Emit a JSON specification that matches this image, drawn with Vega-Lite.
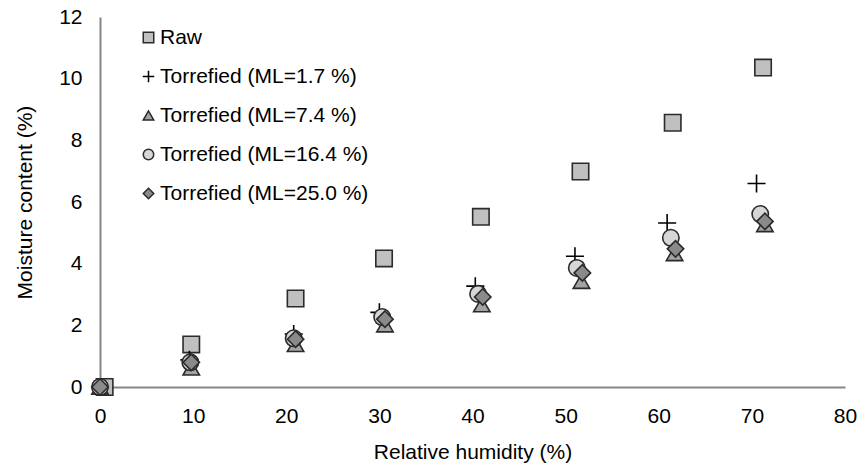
{
  "$schema": "https://vega.github.io/schema/vega-lite/v6.json",
  "width": 745,
  "height": 370,
  "autosize": {"type": "none"},
  "padding": {"left": 100, "top": 17, "right": 16, "bottom": 87},
  "background": "white",
  "config": {
    "view": {"stroke": null},
    "font": "Liberation Sans",
    "axis": {
      "grid": false,
      "domainColor": "#868686",
      "domainWidth": 2,
      "tickColor": "#868686",
      "tickWidth": 2,
      "labelFont": "Liberation Sans",
      "labelFontSize": 21,
      "labelColor": "#000",
      "labelFlush": false,
      "labelOverlap": false,
      "titleFont": "Liberation Sans",
      "titleFontSize": 21,
      "titleFontWeight": "normal",
      "titleColor": "#000"
    },
    "legend": {
      "labelFont": "Liberation Sans", "labelFontSize": 21, "labelColor": "#000", "labelLimit": 0
    }
  },
  "data": {
    "values": [
      {"s": "Raw", "rh": 0.5, "mc": 0},
      {"s": "Raw", "rh": 9.8, "mc": 1.38},
      {"s": "Raw", "rh": 21.0, "mc": 2.87},
      {"s": "Raw", "rh": 30.5, "mc": 4.17},
      {"s": "Raw", "rh": 40.9, "mc": 5.52},
      {"s": "Raw", "rh": 51.6, "mc": 6.99},
      {"s": "Raw", "rh": 61.5, "mc": 8.57},
      {"s": "Raw", "rh": 71.2, "mc": 10.36},
      {"s": "Torrefied (ML=1.7 %)", "rh": 0, "mc": 0},
      {"s": "Torrefied (ML=1.7 %)", "rh": 9.6, "mc": 0.88},
      {"s": "Torrefied (ML=1.7 %)", "rh": 20.8, "mc": 1.72},
      {"s": "Torrefied (ML=1.7 %)", "rh": 30.0, "mc": 2.42},
      {"s": "Torrefied (ML=1.7 %)", "rh": 40.3, "mc": 3.27},
      {"s": "Torrefied (ML=1.7 %)", "rh": 51.0, "mc": 4.24},
      {"s": "Torrefied (ML=1.7 %)", "rh": 60.9, "mc": 5.32},
      {"s": "Torrefied (ML=1.7 %)", "rh": 70.5, "mc": 6.6},
      {"s": "Torrefied (ML=7.4 %)", "rh": 0, "mc": 0},
      {"s": "Torrefied (ML=7.4 %)", "rh": 9.8, "mc": 0.62},
      {"s": "Torrefied (ML=7.4 %)", "rh": 21.0, "mc": 1.38},
      {"s": "Torrefied (ML=7.4 %)", "rh": 30.6, "mc": 2.02},
      {"s": "Torrefied (ML=7.4 %)", "rh": 41.0, "mc": 2.67},
      {"s": "Torrefied (ML=7.4 %)", "rh": 51.7, "mc": 3.43},
      {"s": "Torrefied (ML=7.4 %)", "rh": 61.7, "mc": 4.33},
      {"s": "Torrefied (ML=7.4 %)", "rh": 71.4, "mc": 5.27},
      {"s": "Torrefied (ML=16.4 %)", "rh": 0, "mc": 0},
      {"s": "Torrefied (ML=16.4 %)", "rh": 9.7, "mc": 0.8},
      {"s": "Torrefied (ML=16.4 %)", "rh": 20.8, "mc": 1.58},
      {"s": "Torrefied (ML=16.4 %)", "rh": 30.3, "mc": 2.27},
      {"s": "Torrefied (ML=16.4 %)", "rh": 40.6, "mc": 3.02},
      {"s": "Torrefied (ML=16.4 %)", "rh": 51.2, "mc": 3.86},
      {"s": "Torrefied (ML=16.4 %)", "rh": 61.3, "mc": 4.84},
      {"s": "Torrefied (ML=16.4 %)", "rh": 70.9, "mc": 5.61},
      {"s": "Torrefied (ML=25.0 %)", "rh": 0, "mc": 0},
      {"s": "Torrefied (ML=25.0 %)", "rh": 9.8, "mc": 0.8},
      {"s": "Torrefied (ML=25.0 %)", "rh": 21.0, "mc": 1.55},
      {"s": "Torrefied (ML=25.0 %)", "rh": 30.6, "mc": 2.2},
      {"s": "Torrefied (ML=25.0 %)", "rh": 41.1, "mc": 2.92},
      {"s": "Torrefied (ML=25.0 %)", "rh": 51.8, "mc": 3.7},
      {"s": "Torrefied (ML=25.0 %)", "rh": 61.8, "mc": 4.48},
      {"s": "Torrefied (ML=25.0 %)", "rh": 71.4, "mc": 5.37}
    ]
  },
  "mark": {"type": "point", "filled": true, "opacity": 1, "strokeWidth": 1.6, "size": 270},
  "encoding": {
    "x": {
      "field": "rh", "type": "quantitative",
      "scale": {"domain": [0, 80], "nice": false, "zero": false, "padding": 0},
      "axis": {
        "title": "Relative humidity (%)", "values": [0,10,20,30,40,50,60,70,80],
        "tickSize": 0, "labelPadding": 18, "titlePadding": 15,
        "encode": {"ticks": {"update": {"y2": {"value": -7}}}}
      }
    },
    "y": {
      "field": "mc", "type": "quantitative",
      "scale": {"domain": [0, 12], "nice": false, "padding": 0},
      "axis": {
        "title": "Moisture content (%)", "values": [0,2,4,6,8,10,12],
        "tickSize": 0, "labelPadding": 18, "titlePadding": 23,
        "encode": {"ticks": {"update": {"x2": {"value": 7}}}}
      }
    },
    "shape": {
      "field": "s", "type": "nominal",
      "scale": {
        "domain": ["Raw", "Torrefied (ML=1.7 %)", "Torrefied (ML=7.4 %)", "Torrefied (ML=16.4 %)", "Torrefied (ML=25.0 %)"],
        "range": ["square", "M-1.1,0H1.1M0,-1.1V1.1", "triangle-up", "circle", "diamond"]
      },
      "legend": {
        "title": null, "orient": "none", "legendX": 38, "legendY": 10, "padding": 0,
        "labelOffset": 1, "rowPadding": 17, "symbolSize": 110, "symbolStrokeWidth": 1.5
      }
    },
    "fill": {
      "field": "s", "type": "nominal",
      "scale": {
        "domain": ["Raw", "Torrefied (ML=1.7 %)", "Torrefied (ML=7.4 %)", "Torrefied (ML=16.4 %)", "Torrefied (ML=25.0 %)"],
        "range": ["#c0c0c0", "#ffffff", "#a3a3a3", "#d6d6d6", "#8a8a8a"]
      }
    },
    "stroke": {
      "field": "s", "type": "nominal",
      "scale": {
        "domain": ["Raw", "Torrefied (ML=1.7 %)", "Torrefied (ML=7.4 %)", "Torrefied (ML=16.4 %)", "Torrefied (ML=25.0 %)"],
        "range": ["#2b2b2b", "#000000", "#2b2b2b", "#2b2b2b", "#2b2b2b"]
      }
    }
  }
}
